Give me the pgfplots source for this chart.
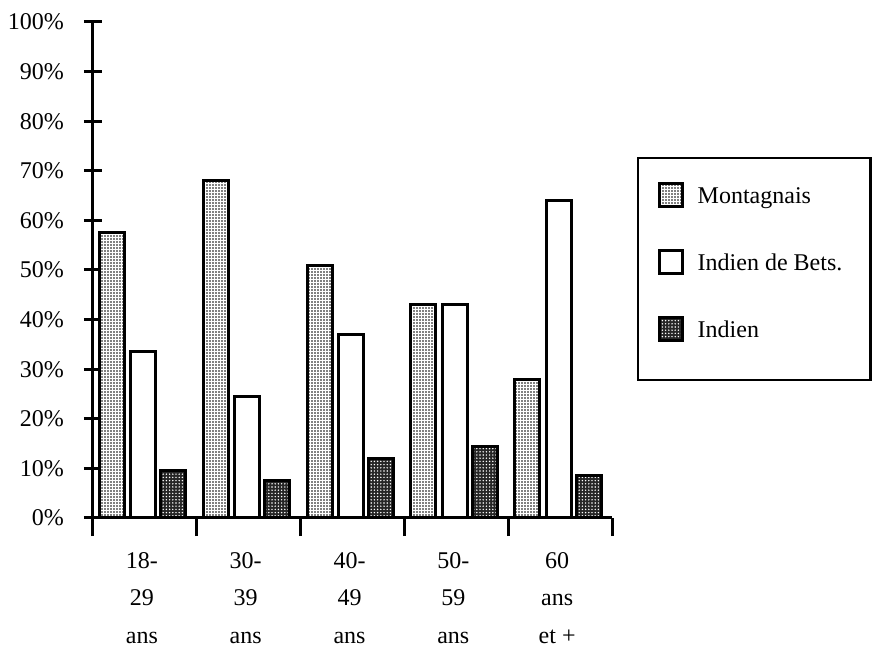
\documentclass[border=0pt]{standalone}
\usepackage{fontspec}
\setmainfont{Liberation Serif}
\usepackage{pgfplots}
\pgfplotsset{compat=1.18}
\usetikzlibrary{patterns.meta}
\begin{document}
\begin{tikzpicture}[x=1pt,y=1pt]
\useasboundingbox (0,0) rectangle (436,323.5);
\begin{axis}[
  at={(46.5pt,64.5pt)}, anchor=south west,
  scale only axis, width=259.5pt, height=248pt,
  xmin=-0.5, xmax=4.5, ymin=0, ymax=100,
  axis x line=bottom, axis y line=left,
  axis line style={-, line width=1.5pt},
  ytick={0,10,...,100},
  yticklabel={\pgfmathprintnumber{\tick}\%},
  /pgf/number format/assume math mode=true,
  yticklabel style={font=\fontsize{12}{14}\selectfont, xshift=-6.5pt},
  xtick={-0.5,0.5,...,4.5}, xticklabels={},
  extra x ticks={0,1,2,3,4},
  extra x tick labels={{18-\\29\\ans},{30-\\39\\ans},{40-\\49\\ans},{50-\\59\\ans},{60\\ans\\et +}},
  extra x tick style={major tick length=0pt,
    xticklabel style={align=center, font=\fontsize{12}{18.6}\selectfont, anchor=north, yshift=-13.8pt, xshift=-1.5pt}},
  tick align=center, major tick length=9pt,
  tick style={line width=1.5pt, black},
  ybar, bar width=12.5pt,
  legend style={name=leg, at={(1.048,0.728)}, anchor=north west, draw=none,
    inner xsep=10.5pt, inner ysep=12.5pt, row sep=20.8pt,
    font=\fontsize{12}{14}\selectfont,
    nodes={inner sep=0pt},
    /tikz/every odd column/.append style={column sep=7pt}},
  legend cell align=left,
  legend style={cells={anchor=base west}},
  legend image code/.code={\draw[#1, line width=1.2pt] (0pt,-1.75pt) rectangle (11.5pt,9.75pt);},
]
\addplot[draw=black, line width=1.5pt, fill=white, bar shift=-16.5pt,
  postaction={pattern={Dots[distance=1.5pt, radius=0.4pt]}, pattern color=black}]
  coordinates {(0,57.5) (1,68) (2,51) (3,43) (4,28)};
\addlegendentry{Montagnais}
\addplot[draw=black, line width=1.5pt, fill=white, bar shift=-0.8pt]
  coordinates {(0,33.5) (1,24.5) (2,37) (3,43) (4,64)};
\addlegendentry{Indien de Bets.}
\addplot[draw=black, line width=1.5pt, fill=black!85, bar shift=14.2pt,
  postaction={pattern={Dots[distance=1.6pt, radius=0.4pt]}, pattern color=white}]
  coordinates {(0,9.5) (1,7.5) (2,12) (3,14.5) (4,8.5)};
\addlegendentry{Indien}
\end{axis}
\draw[line width=1.2pt] ([xshift=0.6pt,yshift=-0.6pt]leg.north west) rectangle ([xshift=3.4pt,yshift=-6.5pt]leg.south east);
\end{tikzpicture}
\end{document}
